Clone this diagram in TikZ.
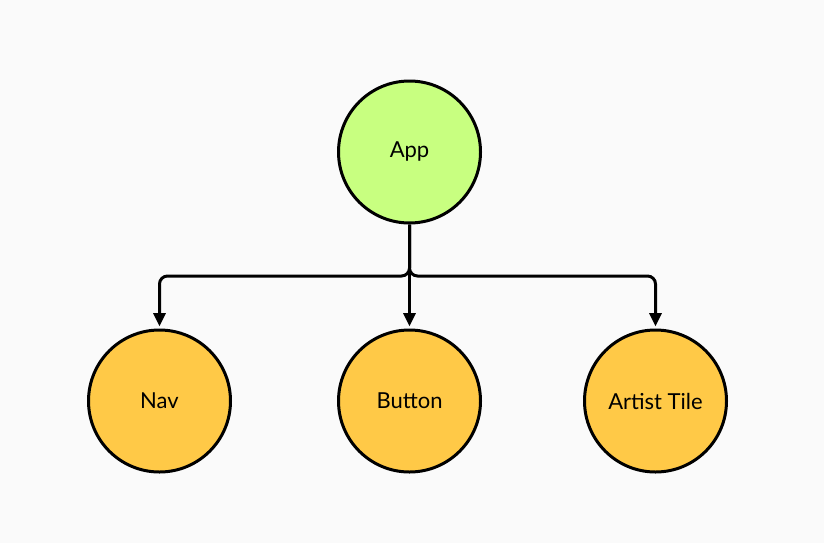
\documentclass[tikz,border=0pt]{standalone}
\usepackage{fontspec}
\setmainfont{Lato}
\usetikzlibrary{arrows.meta}
\definecolor{bgcol}{HTML}{FAFAFA}
\definecolor{appcol}{HTML}{C8FF80}
\definecolor{compcol}{HTML}{FFC947}
\begin{document}
\begin{tikzpicture}[x=0.75pt,y=-0.75pt]
        \tikzstyle{root}=[circle,line width=2.25pt,draw=black,fill=appcol,minimum size=106.5pt,inner sep=0pt,font=\fontsize{16.5}{20}\selectfont]
        \tikzstyle{component}=[root,fill=compcol]
        \tikzstyle{edge}=[draw=black,line width=2.25pt,rounded corners=6pt,-{Triangle[length=10pt,width=9pt]},shorten >=1.5pt]

        \fill[bgcol] (0,0) rectangle (824,543);
        \useasboundingbox (0,0) rectangle (824,543);

        \begin{scope}

          \node [root] (app) at (409.5,152) {App};
          \node [component] (nav) at (159.5,401) {Nav};
          \node [component] (button) at (409.5,401) {Button};
          \node [component] (tile) at (655.5,401) {Artist Tile};

          \coordinate (split) at (409.5,276);

          \path[edge] (app.south) -- (split) -| (nav.north);
          \path[edge] (app.south) -- (split) -| (tile.north);
          \path[edge, rounded corners=0pt] (app.south) -- (button.north);

        \end{scope}
\end{tikzpicture}
\end{document}
